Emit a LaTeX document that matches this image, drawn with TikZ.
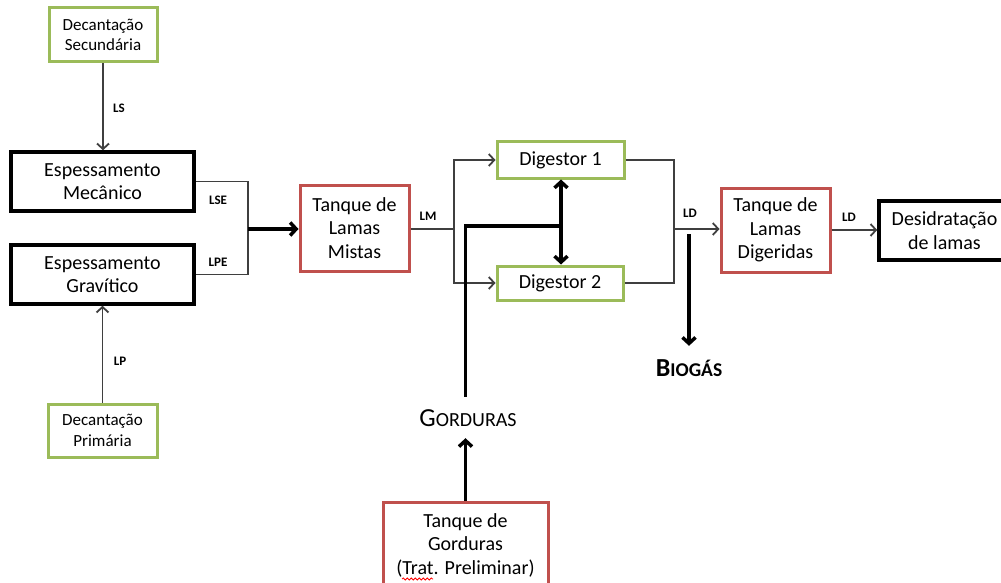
\documentclass[tikz,border=0pt]{standalone}
\usepackage{fontspec}
\setmainfont{Carlito}
\usetikzlibrary{arrows.meta,decorations.pathmorphing}
\definecolor{bgreen}{HTML}{9BBB59}
\definecolor{bred}{HTML}{C0504D}
\definecolor{conn}{HTML}{3F3F3F}
\begin{document}
\begin{tikzpicture}[x=1pt,y=-1pt,
  box/.style={draw,line width=3pt,align=center,inner sep=0pt,font=\fontsize{20}{23.5}\selectfont},
  gbox/.style={box,draw=bgreen},
  rbox/.style={box,draw=bred},
  kbox/.style={box,draw=black,line width=3.5pt},
  smallbox/.style={font=\fontsize{17}{20.5}\selectfont},
  cline/.style={draw=conn,line width=1.8pt},
  tip/.style={-{Straight Barb[length=5.5pt,width=12pt]}},
  fat/.style={draw=black,line width=3.5pt},
  fattip/.style={-{Straight Barb[length=6pt,width=13pt]}},
  lbl/.style={font=\fontsize{13}{15}\selectfont\bfseries,inner sep=0pt}
]
\fill[white] (0,0) rectangle (1001,583);
\useasboundingbox (0,0) rectangle (1001,583);

% boxes
\node[gbox,smallbox,minimum width=108,minimum height=54] (ds) at (103,35) {Decantação\\Secundária};
\node[kbox,minimum width=183,minimum height=59] (em) at (102.5,181.5) {Espessamento\\Mecânico};
\node[kbox,minimum width=183,minimum height=59] (eg) at (102.5,274.5) {Espessamento\\Gravítico};
\node[gbox,smallbox,minimum width=109,minimum height=53] (dp) at (102.5,430.5) {Decantação\\Primária};
\node[rbox,minimum width=109,minimum height=86] (tlm) at (354.5,228) {Tanque de\\Lamas\\Mistas};
\node[gbox,minimum width=127,minimum height=36] (d1) at (560.5,160) {Digestor 1};
\node[gbox,minimum width=126,minimum height=34] (d2) at (560,283) {Digestor 2};
\node[rbox,minimum width=109,minimum height=84] (tld) at (775.5,230) {Tanque de\\Lamas\\Digeridas};
\node[kbox,minimum width=131,minimum height=59] (des) at (944.5,230.5) {Desidratação\\de lamas};
\node[rbox,minimum width=165,minimum height=86] (tg) at (465.5,545) {Tanque de\\Gorduras\\(Trat. Preliminar)};

% free-standing labels
\node[inner xsep=0pt,inner ysep=12pt,text height=17pt,text depth=0pt] (gord) at (468,417.5)
  {{\fontsize{26}{30}\selectfont G}{\fontsize{20}{22}\selectfont ORDURAS}};
\node[inner xsep=0pt,inner ysep=14pt,text height=16pt,text depth=0pt,font=\bfseries] (bio) at (689,368)
  {{\fontsize{26}{30}\selectfont B}{\fontsize{19.5}{22}\selectfont IOGÁS}};

% connectors
\draw[cline,tip] (ds.south) -- (ds.south |- em.north);
\node[lbl] (ls) at (119,108) {LS};
\draw[cline,tip] (dp.north) -- (dp.north |- eg.south);
\node[lbl] (lp) at (120,361) {LP};

\coordinate (jn) at (248,229);
\draw[cline] (em.east) -| (jn) |- (eg.east);
\draw[fat,fattip] (jn) -- (jn -| tlm.west);
\node[lbl] (lse) at (218,200) {LSE};
\node[lbl] (lpe) at (218,262) {LPE};

\coordinate (lm) at (454,229);
\draw[cline] (tlm.east |- lm) -- (lm);
\draw[cline,tip] (lm) |- (d1.west);
\draw[cline,tip] (lm) |- (d2.west);
\node[lbl] (lmt) at (428,216) {LM};

\coordinate (ld) at (674,229);
\draw[cline] (d1.east) -| (ld) |- (d2.east);
\draw[cline,tip] (ld) -- (ld -| tld.west);
\node[lbl] (ld1) at (690,213) {LD};
\draw[cline,tip] (tld.east) -- (tld.east -| des.west);
\node[lbl] (ld2) at (849,217) {LD};

\coordinate (bs) at (689,234);
\draw[fat,fattip] (bs) -- (bs |- bio.north);

\coordinate (jg) at (561,226);
\draw[fat,line join=miter] (gord.north -| tg.north) |- (jg);
\draw[fat,fattip] (jg) -- (jg |- d1.south);
\draw[fat,fattip] (jg) -- (jg |- d2.north);
\draw[fat,fattip] (tg.north) -- (tg.north |- gord.south);

% spell-check squiggle under "Trat"
\draw[red,line width=0.8pt,decorate,decoration={snake,amplitude=1pt,segment length=4pt}] (402,579) -- (433,579);
\end{tikzpicture}
\end{document}
